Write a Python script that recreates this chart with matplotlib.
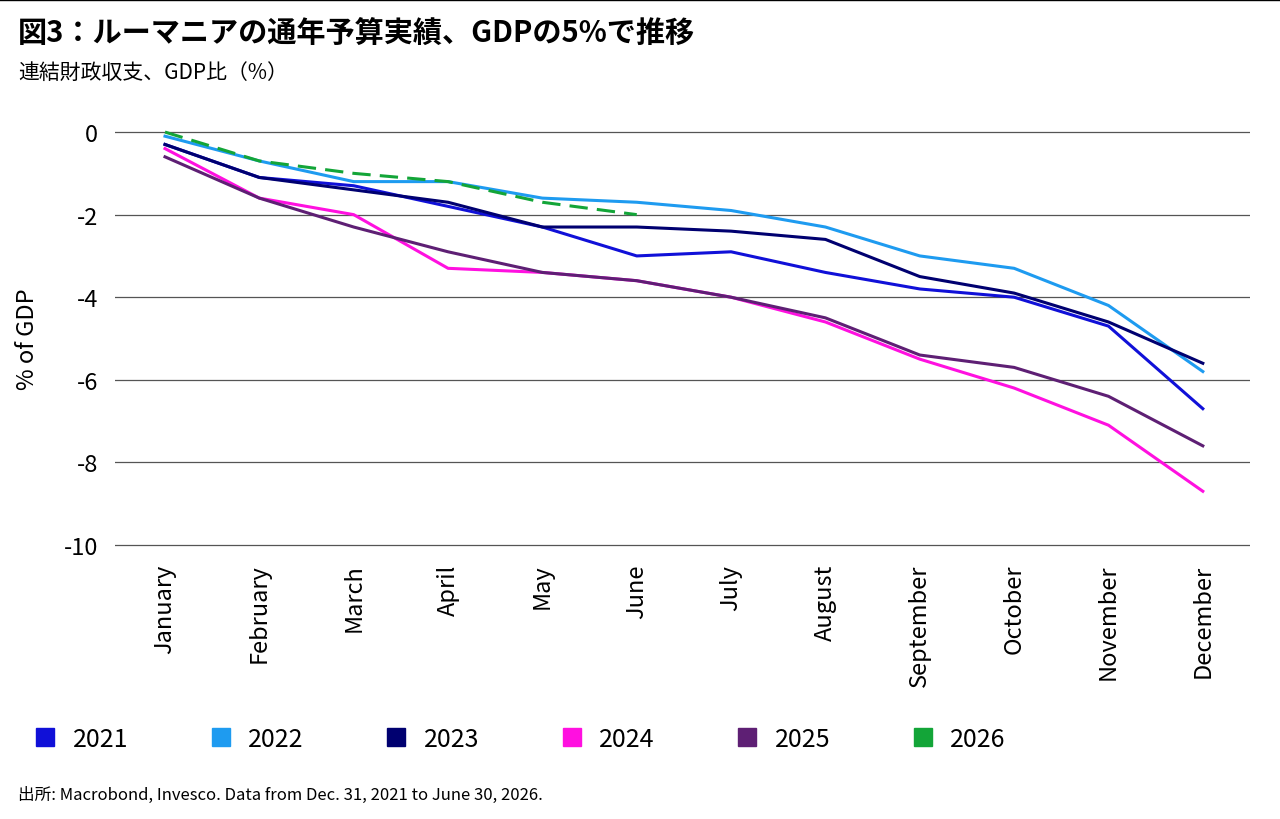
import matplotlib
matplotlib.use("Agg")
import matplotlib.pyplot as plt
from matplotlib.lines import Line2D

plt.rcParams['font.family'] = ['Noto Sans CJK JP', 'DejaVu Sans']

months = ['January', 'February', 'March', 'April', 'May', 'June', 'July',
          'August', 'September', 'October', 'November', 'December']
y2021 = [-0.3, -1.1, -1.3, -1.8, -2.3, -3.0, -2.9, -3.4, -3.8, -4.0, -4.7, -6.7]
y2022 = [-0.1, -0.7, -1.2, -1.2, -1.6, -1.7, -1.9, -2.3, -3.0, -3.3, -4.2, -5.8]
y2023 = [-0.3, -1.1, -1.4, -1.7, -2.3, -2.3, -2.4, -2.6, -3.5, -3.9, -4.6, -5.6]
y2024 = [-0.4, -1.6, -2.0, -3.3, -3.4, -3.6, -4.0, -4.6, -5.5, -6.2, -7.1, -8.7]
y2025 = [-0.6, -1.6, -2.3, -2.9, -3.4, -3.6, -4.0, -4.5, -5.4, -5.7, -6.4, -7.6]
y2026 = [0.0, -0.7, -1.0, -1.2, -1.7, -2.0]

series = [('2021', y2021, '#1010D8', '-'),
          ('2022', y2022, '#1E9BF0', '-'),
          ('2023', y2023, '#000070', '-'),
          ('2024', y2024, '#FF10E0', '-'),
          ('2025', y2025, '#5E1F74', '-'),
          ('2026', y2026, '#13A538', '--')]

fig = plt.figure(figsize=(12.8, 8.2), dpi=100)
ax = fig.add_axes([115/1280, 1-548/820, (1250-115)/1280, (548-131)/820])

x = list(range(len(months)))
for name, vals, col, ls in series:
    ax.plot(x[:len(vals)], vals, color=col, ls=ls, lw=2.2, dashes=(6, 3) if ls == '--' else (None, None))

ax.set_xlim(-0.53, 11.5)
ax.set_ylim(-10.05, 0.05)
ax.set_yticks([0, -2, -4, -6, -8, -10])
ax.set_yticklabels(['0', '-2', '-4', '-6', '-8', '-10'], fontsize=17)
ax.set_xticks(x)
ax.set_xticklabels(months, rotation=90, fontsize=17)
ax.tick_params(length=0, pad=12)
ax.grid(axis='y', color='#555555', lw=0.9)
ax.set_axisbelow(True)
for s in ax.spines.values():
    s.set_visible(False)
ax.set_ylabel('% of GDP', fontsize=17, labelpad=18)

handles = [Line2D([], [], marker='s', ls='none', color=c, markersize=13) for _, _, c, _ in series]
fig.legend(handles, [s[0] for s in series], loc='center left', bbox_to_anchor=(0.01, 1-740/820),
           ncol=6, frameon=False, fontsize=18, handlelength=0.8, handletextpad=0.7,
           columnspacing=3.3)

fig.text(18/1280, 1-33/820, '図3：ルーマニアの通年予算実績、GDPの5%で推移', fontsize=21,
         fontweight='bold', va='center')
fig.text(18/1280, 1-73/820, '連結財政収支、GDP比（%）', fontsize=15, va='center')
fig.text(18/1280, 1-795/820, '出所: Macrobond, Invesco. Data from Dec. 31, 2021 to June 30, 2026.',
         fontsize=12, va='center')
fig.add_artist(Line2D([0, 1], [0.999, 0.999], color='black', lw=1))

fig.savefig('out.png', dpi=100)
